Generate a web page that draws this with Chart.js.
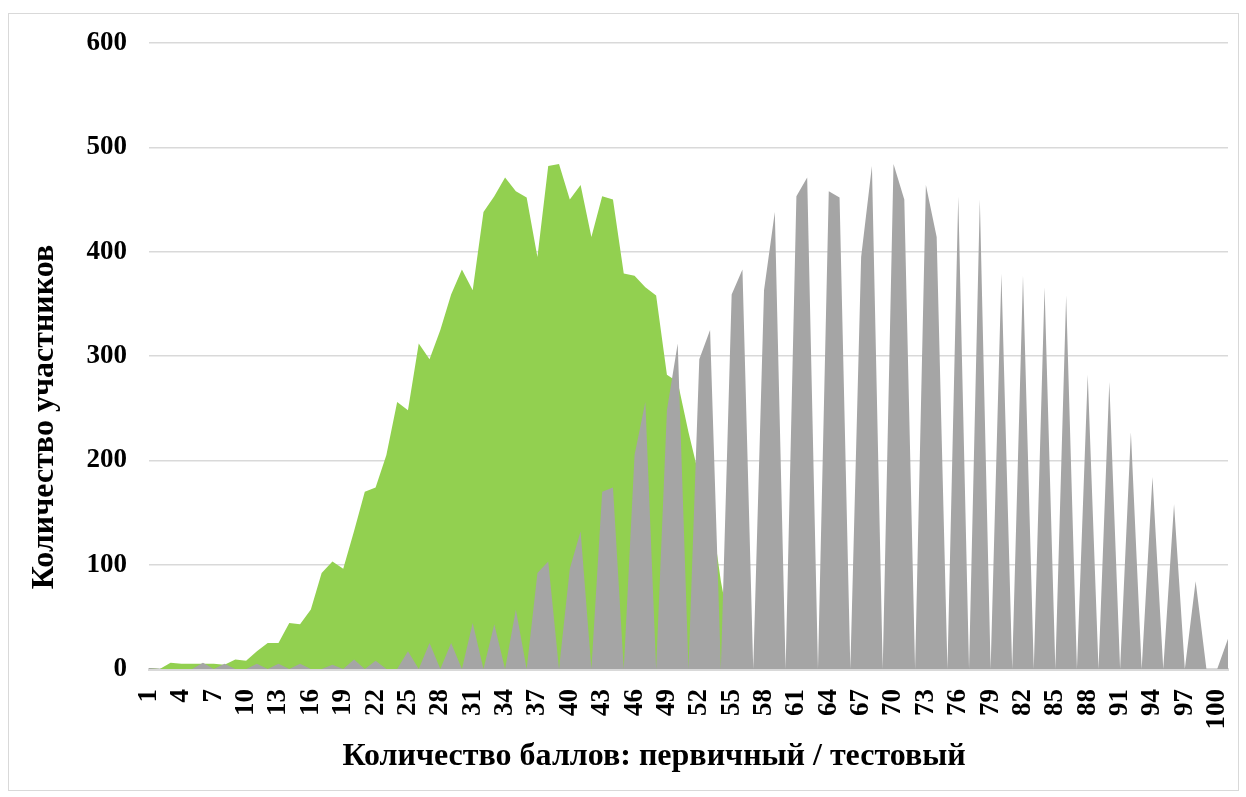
<!DOCTYPE html>
<html>
<head>
<meta charset="utf-8">
<script src="https://cdn.jsdelivr.net/npm/chart.js@4.4.1/dist/chart.umd.min.js"></script>
<style>
  html, body { margin: 0; padding: 0; background: #fff; }
  #wrap { width: 1246px; height: 797px; }
</style>
</head>
<body>
<div id="wrap"><canvas id="myChart" width="1246" height="797"></canvas></div>
<script>
// category labels on the x axis (every 3rd is shown)
const categories = [
  '1','2','3','4','5','6','7','8','9','10','11','12','13','14','15','16','17','18','19','20',
  '21','22','23','24','25','26','27','28','29','30','31','32','33','34','35','36','37','38','39','40',
  '41','42','43','44','45','46','47','48','49','50','51','52','53','54','55','56','57','58','59','60',
  '61','62','63','64','65','66','67','68','69','70','71','72','73','74','75','76','77','78','79','80',
  '81','82','83','84','85','86','87','88','89','90','91','92','93','94','95','96','97','98','99','100','101'
];

// primary score distribution (green)
const primaryCounts = [
  1, 0, 6, 5, 5, 5, 5, 4, 9, 8,
  17, 25, 25, 44, 43, 57, 92, 103, 96, 132,
  170, 174, 205, 256, 248, 312, 297, 325, 359, 383,
  363, 438, 453, 471, 458, 452, 395, 482, 484, 450,
  464, 414, 453, 450, 379, 377, 366, 358, 282, 275,
  227, 184, 158, 84, 29, 0, 0, 0, 0, 0,
  0, 0, 0, 0, 0, 0, 0, 0, 0, 0,
  0, 0, 0, 0, 0, 0, 0, 0, 0, 0,
  0, 0, 0, 0, 0, 0, 0, 0, 0, 0,
  0, 0, 0, 0, 0, 0, 0, 0, 0, 0,
  0
];

// test score distribution (grey)
const testCounts = [
  1, 0, 0, 0, 0, 6, 0, 5, 0, 0,
  5, 0, 5, 0, 5, 0, 0, 4, 0, 9,
  0, 8, 0, 0, 17, 0, 25, 0, 25, 0,
  44, 0, 43, 0, 57, 0, 92, 103, 0, 96,
  132, 0, 170, 174, 0, 205, 256, 0, 248, 312,
  0, 297, 325, 0, 359, 383, 0, 363, 438, 0,
  453, 471, 0, 458, 452, 0, 395, 482, 0, 484,
  450, 0, 464, 414, 0, 453, 0, 450, 0, 379,
  0, 377, 0, 366, 0, 358, 0, 282, 0, 275,
  0, 227, 0, 184, 0, 158, 0, 84, 0, 0,
  29
];

const yTicks = [0, 100, 200, 300, 400, 500, 600];

const xTitle = 'Количество баллов: первичный / тестовый';
const yTitle = 'Количество участников';

const serif = '"Liberation Serif", "Times New Roman", serif';

// white background, outer frame and the two axis titles
const frameAndTitles = {
  id: 'frameAndTitles',
  beforeDraw(chart) {
    const c = chart.ctx;
    c.save();
    c.fillStyle = '#ffffff';
    c.fillRect(0, 0, chart.width, chart.height);
    c.strokeStyle = '#d9d9d9';
    c.lineWidth = 1;
    c.strokeRect(8.5, 13.5, 1230, 777);
    c.restore();
  },
  afterDraw(chart) {
    const c = chart.ctx;
    c.save();
    c.fillStyle = '#000';
    c.font = 'bold 32px ' + serif;
    c.textAlign = 'center';
    c.textBaseline = 'middle';
    c.fillText(xTitle, 654, 757);
    c.translate(45, 417);
    c.rotate(-Math.PI / 2);
    c.fillText(yTitle, 0, 0);
    c.restore();
  }
};

const ctx = document.getElementById('myChart');

new Chart(ctx, {
  type: 'line',
  data: {
    labels: categories,
    datasets: [
      {
        label: 'Первичный балл',
        data: primaryCounts,
        backgroundColor: '#92D050',
        borderColor: '#92D050',
        borderWidth: 0,
        pointRadius: 0,
        fill: 'origin',
        tension: 0,
        order: 1
      },
      {
        label: 'Тестовый балл',
        data: testCounts,
        backgroundColor: '#A5A5A5',
        borderColor: '#A5A5A5',
        borderWidth: 0,
        pointRadius: 0,
        fill: 'origin',
        tension: 0,
        order: 0
      }
    ]
  },
  options: {
    responsive: false,
    animation: false,
    events: [],
    layout: { padding: { top: 43, right: 18, left: 0, bottom: 0 } },
    plugins: {
      legend: { display: false },
      tooltip: { enabled: false }
    },
    scales: {
      x: {
        z: 1,
        offset: false,
        grid: { display: false, drawTicks: false },
        border: { display: true, color: '#d9d9d9', width: 3 },
        ticks: {
          autoSkip: false,
          minRotation: 90,
          maxRotation: 90,
          padding: 20,
          color: '#000',
          font: { family: serif, size: 27, weight: 'bold' },
          callback: function (val, index) {
            return index % 3 === 0 ? this.getLabelForValue(val) : '';
          }
        },
        afterFit: function (scale) {
          scale.height = 128;
          scale.paddingLeft = 0;
          scale.paddingRight = 0;
        }
      },
      y: {
        min: yTicks[0],
        max: yTicks[yTicks.length - 1],
        grid: { color: '#d9d9d9', lineWidth: 1.5, drawTicks: false },
        border: { display: false },
        afterBuildTicks: function (scale) {
          scale.ticks = yTicks.map(v => ({ value: v }));
        },
        ticks: {
          padding: 22,
          color: '#000',
          font: { family: serif, size: 27, weight: 'bold' }
        },
        afterFit: function (scale) {
          scale.width = 149;
          scale.paddingTop = 0;
          scale.paddingBottom = 0;
        }
      }
    }
  },
  plugins: [frameAndTitles]
});
</script>
</body>
</html>
